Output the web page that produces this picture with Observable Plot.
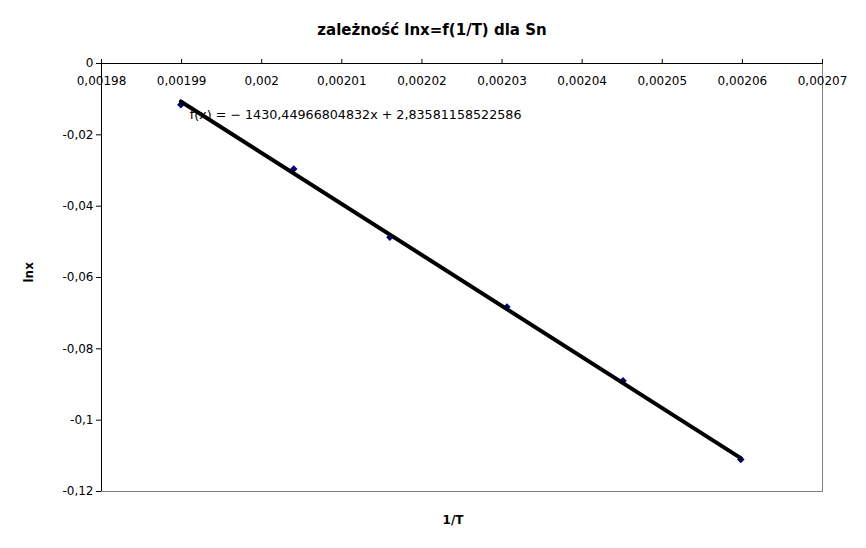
<!DOCTYPE html>
<html>
<head>
<meta charset="utf-8">
<script src="https://cdn.jsdelivr.net/npm/d3@7"></script>
<script src="https://cdn.jsdelivr.net/npm/@observablehq/plot@0.6"></script>
<style>
  html, body { margin: 0; padding: 0; background: #fff; }
  #chart svg { display: block; }
</style>
</head>
<body>
<div id="chart"></div>
<script>
// Data
const invT = [0.0019899, 0.0020040, 0.0020160, 0.0020306, 0.0020451, 0.0020598];
const lnx  = [-0.01157, -0.02961, -0.0487, -0.06827, -0.08893, -0.1110];
const xTicks = [0.00198, 0.00199, 0.002, 0.00201, 0.00202, 0.00203, 0.00204, 0.00205, 0.00206, 0.00207];
const yTicks = [0, -0.02, -0.04, -0.06, -0.08, -0.1, -0.12];
const slope = -1430.44966804832;
const intercept = 2.83581158522586;
const titleText = "zależność lnx=f(1/T) dla Sn";
const xLabel = "1/T";
const yLabel = "lnx";
const eqText = "f(x) = \u2212 1430,44966804832x + 2,83581158522586";

const points = invT.map((x, i) => ({x, y: lnx[i]}));
const xMin = d3.min(invT), xMax = d3.max(invT);
const trend = [xMin, xMax].map(x => ({x, y: slope * x + intercept}));
const fmt = d => String(d).replace(".", ",");
const font = "DejaVu Sans, sans-serif";

const chart = Plot.plot({
  width: 866,
  height: 548,
  marginLeft: 101,
  marginRight: 44,
  marginTop: 63,
  marginBottom: 57,
  style: {fontFamily: font, fontSize: "12px", color: "#000", background: "#fff"},
  x: {domain: [0.00198, 0.00207]},
  y: {domain: [-0.12, 0]},
  marks: [
    Plot.frame({stroke: "#808080"}),
    Plot.ruleX([0.00198], {stroke: "#000"}),
    Plot.ruleY([0], {stroke: "#000"}),
    Plot.axisX({anchor: "top", ticks: xTicks, tickSize: 5, tickFormat: () => "", label: null}),
    Plot.axisX({anchor: "top", ticks: xTicks, tickSize: 0, tickPadding: 0, lineAnchor: "middle", dy: 18, tickFormat: fmt, label: null, fontSize: 12}),
    Plot.axisY({anchor: "left", ticks: yTicks, tickSize: 5, tickPadding: 3, tickFormat: fmt, label: null, fontSize: 12}),
    Plot.dot(points, {x: "x", y: "y", symbol: "square", r: 3, rotate: 45, fill: "#000080", stroke: "none"}),
    Plot.line(trend, {x: "x", y: "y", stroke: "#000", strokeWidth: 4}),
    Plot.text([points[0]], {x: "x", y: "y", text: () => eqText, textAnchor: "start", dx: 9, dy: 10, fontSize: 12.7, fill: "#000"}),
    Plot.text([titleText], {frameAnchor: "top", text: d => d, dx: -30, dy: -39, fontSize: 15, fontWeight: "bold", fill: "#000"}),
    Plot.text([xLabel], {frameAnchor: "bottom", text: d => d, dx: -9, dy: 32, fontSize: 12, fontWeight: "bold", fill: "#000"}),
    Plot.text([yLabel], {frameAnchor: "left", text: d => d, dx: -72, dy: 5, rotate: -90, fontSize: 12, fontWeight: "bold", fill: "#000"})
  ]
});
document.getElementById("chart").appendChild(chart);
</script>
</body>
</html>
